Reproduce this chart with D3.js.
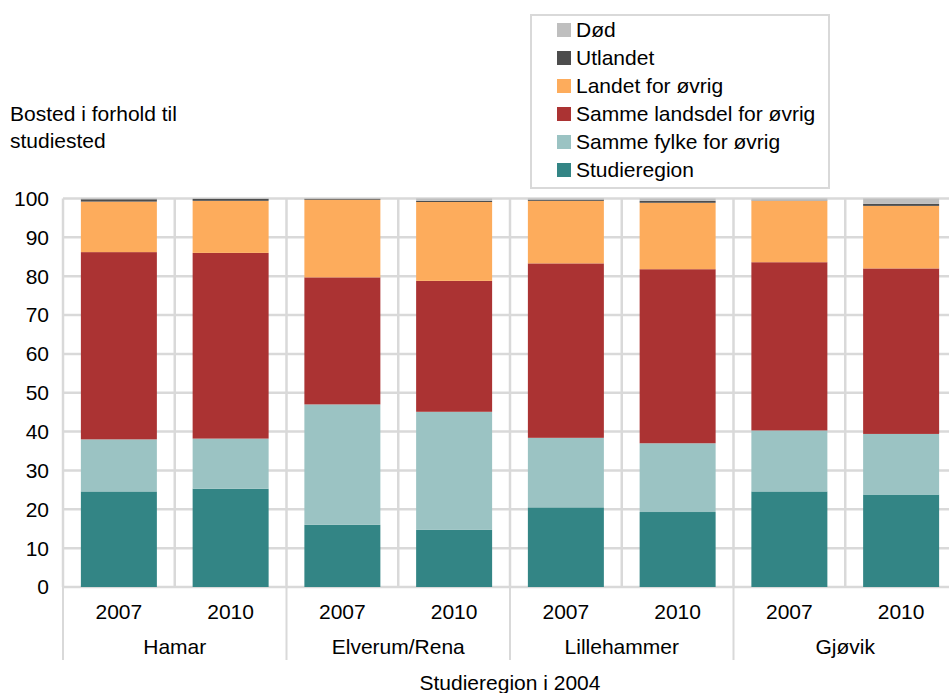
<!DOCTYPE html>
<html>
<head>
<meta charset="utf-8">
<script src="https://cdn.jsdelivr.net/npm/d3@7"></script>
<style>
  body { margin: 0; background: #fff; }
  text { font-family: "Liberation Sans", Arial, sans-serif; fill: #000; }
</style>
</head>
<body>
<svg id="chart" width="949" height="693"></svg>
<script>
// data (percent)
var groups = ["Hamar", "Elverum/Rena", "Lillehammer", "Gjøvik"];
var years = ["2007", "2010"];
var seriesNames = ["Studieregion", "Samme fylke for øvrig", "Samme landsdel for øvrig", "Landet for øvrig", "Utlandet", "Død"];
var seriesColors = ["#338585", "#9bc3c3", "#ab3333", "#fdac5c", "#4d4d4d", "#bfbfbf"];
var yTicks = [0, 10, 20, 30, 40, 50, 60, 70, 80, 90, 100];

// one value per bar: Hamar 07, 10, Elverum 07, 10, Lillehammer 07, 10, Gjøvik 07, 10
var studieregion = [24.6, 25.3, 16.0, 14.7, 20.5, 19.3, 24.6, 23.8];
var sammeFylke   = [13.4, 12.9, 31.0, 30.4, 17.9, 17.7, 15.7, 15.6];
var sammeLandsdel= [48.2, 47.8, 32.7, 33.7, 44.9, 44.8, 43.3, 42.6];
var landet       = [13.0, 13.4, 20.0, 20.3, 16.1, 17.1, 15.8, 16.1];
var utlandet     = [0.6, 0.5, 0.2, 0.3, 0.3, 0.5, 0.1, 0.5];
var dod          = [0.2, 0.1, 0.1, 0.6, 0.3, 0.6, 0.5, 1.4];

var seriesValues = [studieregion, sammeFylke, sammeLandsdel, landet, utlandet, dod];

(function() {
  // build rows for the stack
  var rows = [];
  groups.forEach(function(g, gi) {
    years.forEach(function(yr, yi) {
      var i = gi * years.length + yi;
      var row = { key: g + "|" + yr, group: g, year: yr };
      seriesNames.forEach(function(s, si) { row[s] = seriesValues[si][i]; });
      rows.push(row);
    });
  });

  var svg = d3.select("#chart");
  var plotLeft = 63, plotRight = 957, plotTop = 198.5, plotBottom = 587;
  var fontSize = 21;

  var x = d3.scaleBand()
    .domain(rows.map(function(d) { return d.key; }))
    .range([plotLeft, plotRight])
    .paddingInner(0.32)
    .paddingOuter(0.16);

  var xGroup = d3.scaleBand()
    .domain(groups)
    .range([plotLeft, plotRight]);

  var y = d3.scaleLinear().domain([0, 100]).range([plotBottom, plotTop]);

  var gridColor = "#d9d9d9";

  // horizontal gridlines
  svg.append("g").selectAll("line")
    .data(yTicks)
    .join("line")
    .attr("x1", plotLeft).attr("x2", plotRight)
    .attr("y1", function(d) { return y(d); })
    .attr("y2", function(d) { return y(d); })
    .attr("stroke", gridColor)
    .attr("stroke-width", 2.5);

  // vertical gridlines between bars
  var step = x.step();
  var vLines = d3.range(rows.length + 1).map(function(i) { return plotLeft + i * step; });
  svg.append("g").selectAll("line")
    .data(vLines)
    .join("line")
    .attr("x1", function(d) { return d; }).attr("x2", function(d) { return d; })
    .attr("y1", plotTop).attr("y2", plotBottom)
    .attr("stroke", gridColor)
    .attr("stroke-width", 2.5);

  // stacked bars
  var stacked = d3.stack().keys(seriesNames)(rows);

  svg.append("g").selectAll("g")
    .data(stacked)
    .join("g")
    .attr("fill", function(d, i) { return seriesColors[i]; })
    .selectAll("rect")
    .data(function(d) { return d; })
    .join("rect")
    .attr("x", function(d) { return x(d.data.key); })
    .attr("width", x.bandwidth())
    .attr("y", function(d) { return y(d[1]); })
    .attr("height", function(d) { return y(d[0]) - y(d[1]); });

  // y axis labels
  svg.append("g").selectAll("text")
    .data(yTicks)
    .join("text")
    .attr("x", 49)
    .attr("y", function(d) { return y(d); })
    .attr("dy", "0.35em")
    .attr("text-anchor", "end")
    .attr("font-size", fontSize)
    .text(function(d) { return d; });

  // group separators below the axis
  var sepX = groups.map(function(g) { return xGroup(g); }).concat([plotRight]);
  svg.append("g").selectAll("line")
    .data(sepX)
    .join("line")
    .attr("x1", function(d) { return d; }).attr("x2", function(d) { return d; })
    .attr("y1", plotBottom).attr("y2", 660)
    .attr("stroke", gridColor)
    .attr("stroke-width", 2);

  // year labels
  svg.append("g").selectAll("text")
    .data(rows)
    .join("text")
    .attr("x", function(d) { return x(d.key) + x.bandwidth() / 2; })
    .attr("y", 619)
    .attr("text-anchor", "middle")
    .attr("font-size", fontSize)
    .text(function(d) { return d.year; });

  // group labels
  svg.append("g").selectAll("text")
    .data(groups)
    .join("text")
    .attr("x", function(d) { return xGroup(d) + xGroup.bandwidth() / 2; })
    .attr("y", 654)
    .attr("text-anchor", "middle")
    .attr("font-size", fontSize)
    .text(function(d) { return d; });

  // axis titles
  svg.append("text")
    .attr("x", 510).attr("y", 690)
    .attr("text-anchor", "middle")
    .attr("font-size", fontSize)
    .text("Studieregion i 2004");

  svg.append("text")
    .attr("x", 10).attr("y", 121)
    .attr("font-size", fontSize)
    .text("Bosted i forhold til");
  svg.append("text")
    .attr("x", 10).attr("y", 148)
    .attr("font-size", fontSize)
    .text("studiested");

  // legend, top item first
  svg.append("rect")
    .attr("x", 531).attr("y", 15)
    .attr("width", 298).attr("height", 173)
    .attr("fill", "#fff")
    .attr("stroke", gridColor)
    .attr("stroke-width", 2);

  var legendOrder = seriesNames.slice().reverse();
  var legend = svg.append("g").selectAll("g")
    .data(legendOrder)
    .join("g")
    .attr("transform", function(d, i) { return "translate(557," + (30 + i * 28) + ")"; });

  legend.append("rect")
    .attr("x", 0).attr("y", -7)
    .attr("width", 14).attr("height", 14)
    .attr("fill", function(d) { return seriesColors[seriesNames.indexOf(d)]; });

  legend.append("text")
    .attr("x", 19).attr("y", 0)
    .attr("dy", "0.35em")
    .attr("font-size", fontSize)
    .text(function(d) { return d; });
})();
</script>
</body>
</html>
